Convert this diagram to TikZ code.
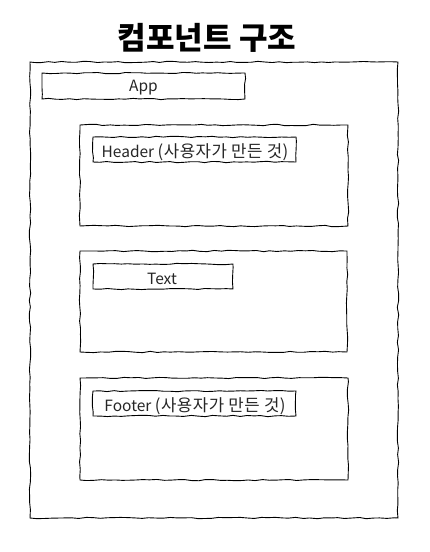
\documentclass[tikz,border=0pt]{standalone}
\usepackage{fontspec}
\setmainfont{Noto Sans CJK KR}
\newfontfamily\kr[Scale=1.08,LetterSpace=3]{Noto Sans CJK KR}
\usetikzlibrary{decorations.pathmorphing}
\begin{document}
\begin{tikzpicture}[x=1pt,y=-1pt,
  sketch/.style={draw=black,line width=0.9pt,decorate,decoration={random steps,segment length=7pt,amplitude=0.7pt}},
  lbl/.style={font=\fontsize{15.5}{18}\selectfont,text=black!85}]
\pgfmathsetseed{7}
\useasboundingbox[fill=white] (0,0) rectangle (430,552);
\node[font=\fontsize{31}{34}\selectfont\bfseries] (title) at (207,38) {컴포넌트 구조};
% outer
\draw[sketch] (30,62) rectangle (398,518);
% App
\draw[sketch] (42,73) rectangle (245,99);
\node[lbl] (app) at (143.5,88) {App};
% Header
\draw[sketch] (80,125) rectangle (348,226);
\draw[sketch] (93,137) rectangle (296,162);
\node[lbl] (header) at (195,152) {Header {\kr(사용자가 만든 것)}};
% Text
\draw[sketch] (80,251) rectangle (347,352);
\draw[sketch] (93,264) rectangle (233,289);
\node[lbl] (text) at (162,279) {Text};
% Footer
\draw[sketch] (80,378) rectangle (348,480);
\draw[sketch] (93,391) rectangle (296,416);
\node[lbl] (footer) at (195,406) {Footer {\kr(사용자가 만든 것)}};
\end{tikzpicture}
\end{document}
